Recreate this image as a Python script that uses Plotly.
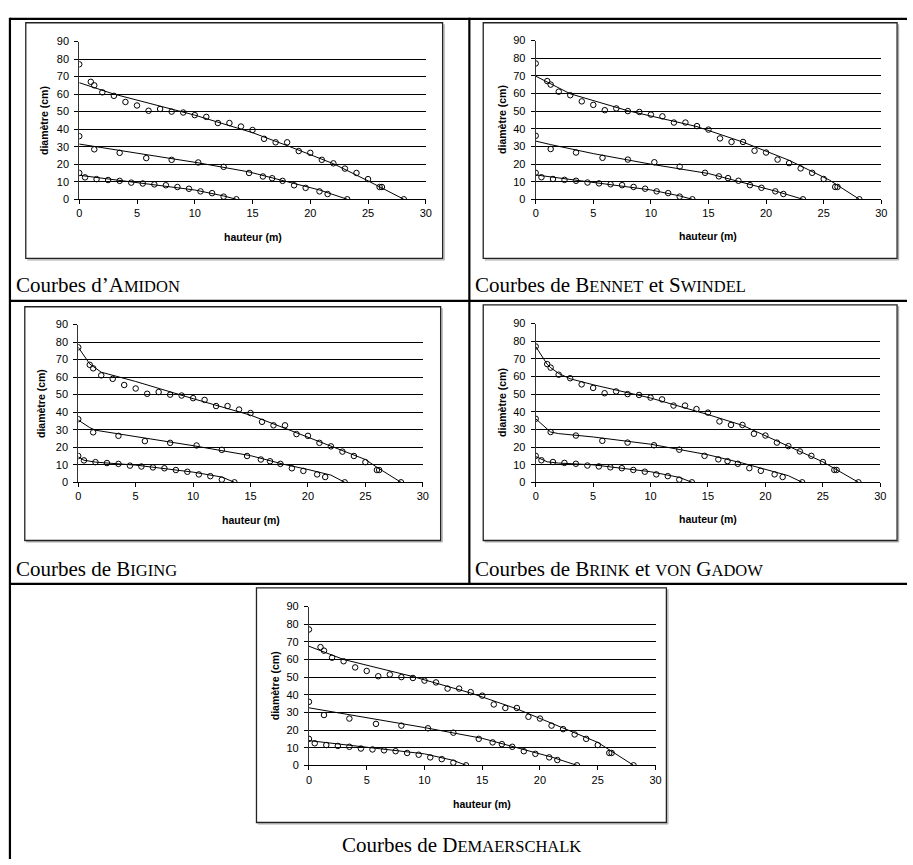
import plotly.graph_objects as go

# ---------------- observed data (height m, diameter cm) ----------------
H1 = [0, 1, 1.3, 2, 3, 4, 5, 6, 7, 8, 9, 10, 11, 12, 13, 14, 15, 16, 17, 18, 19, 20, 21, 22, 23, 24, 25, 26, 26.2, 28.1]
D1 = [77, 67, 65, 61, 59, 55.5, 53.5, 50.5, 51.5, 50, 49.5, 48, 47, 43.5, 43.5, 41.5, 39.5, 34.5, 32.5, 32.5, 27.5, 26.5, 22.5, 20.5, 17.5, 15, 11.5, 7, 7, 0]
H2 = [0, 1.3, 3.5, 5.8, 8, 10.3, 12.5, 14.7, 15.9, 16.7, 17.6, 18.6, 19.6, 20.8, 21.5, 23.2]
D2 = [36, 28.5, 26.5, 23.5, 22.5, 21, 18.5, 15, 13, 12, 10.5, 8, 6.5, 4.5, 3, 0]
H3 = [0, 0.5, 1.5, 2.5, 3.5, 4.5, 5.5, 6.5, 7.5, 8.5, 9.5, 10.5, 11.5, 12.5, 13.6]
D3 = [15, 12.5, 11.5, 11, 10.5, 9.5, 9, 8.5, 8, 7, 6, 4.5, 3.5, 1.5, 0]

# ---------------- fitted profiles ----------------
# Amidon
A_H1 = [0, 3, 10, 15, 18, 22, 25, 28.1]
A_D1 = [66.5, 60, 48, 38, 30.6, 20.3, 10.5, 0]
A_H2 = [0, 10.3, 14.7, 17.6, 20.8, 23.2]
A_D2 = [31.5, 20.8, 15.6, 10.9, 5.3, 0]
A_H3 = [0, 5, 10, 12.5, 13.6]
A_D3 = [13.7, 9.6, 5.3, 1.9, 0]
# Bennet et Swindel
B_H1 = [0, 3, 8, 14, 18, 22, 25.5, 28.1]
B_D1 = [69.8, 59.8, 50.2, 41.2, 32.4, 22.1, 10.9, 0]
B_H2 = [0, 1.3, 5, 10, 15, 18, 21, 23.2]
B_D2 = [33, 31, 25.9, 19.9, 14.6, 9.5, 4.3, 0]
B_H3 = [0, 5, 10, 12.5, 13.6]
B_D3 = [13.8, 9.7, 5.3, 1.9, 0]
# Biging
G_H1 = [0, 1, 2, 5, 10, 15, 18, 22, 25, 26, 28.1]
G_D1 = [77, 67.5, 62.8, 57.5, 47.7, 38.3, 30.8, 20.5, 13, 8.6, 0]
G_H2 = [0, 1, 1.5, 5, 10, 15, 18, 20, 22, 23.2]
G_D2 = [35.5, 31.2, 29.7, 26.1, 20.9, 15.2, 10.1, 7.3, 4.1, 0]
G_H3 = [0, 0.5, 1.5, 5, 10, 12.5, 13.6]
G_D3 = [14.5, 12.6, 11.5, 9.8, 5.8, 3, 0]
# Brink et von Gadow
K_H1 = [0, 1, 1.3, 2, 3, 5, 10, 15, 18, 20, 22, 25, 28.1]
K_D1 = [77, 66.9, 65, 61.7, 58.7, 55.3, 47.8, 38.4, 32.3, 26.3, 20.3, 11.6, 0]
K_H2 = [0, 1.3, 2, 5, 10, 15, 18, 20, 22, 23.2]
K_D2 = [36, 28.5, 27.6, 25.7, 21.6, 15.6, 10.9, 7.3, 3.75, 0]
K_H3 = [0, 1, 2, 5, 10, 12.5, 13.6]
K_D3 = [14.6, 11.6, 10.9, 9.9, 6, 2.8, 0]
# Demaerschalk
M_H1 = [0, 3, 9, 14, 18, 22, 25, 26, 28.1]
M_D1 = [67.5, 60, 50.3, 41, 32, 21.4, 13, 8.8, 0]
M_H2 = [0, 5, 10, 15, 18.5, 21, 23.2]
M_D2 = [32.6, 27, 21.4, 15.3, 9.3, 4.7, 0]
M_H3 = [0, 5, 10, 12.5, 13.6]
M_D3 = [14, 10.2, 6.5, 2.8, 0]

X_TICKS = [0, 5, 10, 15, 20, 25, 30]
Y_TICKS = [0, 10, 20, 30, 40, 50, 60, 70, 80, 90]
X_TITLE = "hauteur (m)"
Y_TITLE = "diamètre (cm)"


def sc(s, size=16.5):
    return '<span style="font-size:%spx">%s</span>' % (size, s)


CAPTIONS = [
    "Courbes d’A" + sc("MIDON"),
    "Courbes de B" + sc("ENNET") + " et S" + sc("WINDEL"),
    "Courbes de B" + sc("IGING"),
    "Courbes de B" + sc("RINK") + " et " + sc("VON") + " G" + sc("ADOW"),
    "Courbes de D" + sc("EMAERSCHALK"),
]

FITS = [
    [(A_H1, A_D1), (A_H2, A_D2), (A_H3, A_D3)],
    [(B_H1, B_D1), (B_H2, B_D2), (B_H3, B_D3)],
    [(G_H1, G_D1), (G_H2, G_D2), (G_H3, G_D3)],
    [(K_H1, K_D1), (K_H2, K_D2), (K_H3, K_D3)],
    [(M_H1, M_D1), (M_H2, M_D2), (M_H3, M_D3)],
]
OBS = [(H1, D1), (H2, D2), (H3, D3)]

# ---------------- layout geometry (pixels) ----------------
W, H = 913, 865
# plot area: x0, x1, ytop, ybottom
PLOTS = [(77, 427, 36, 196), (538, 887, 35, 196), (76, 424, 323, 483),
         (538, 886, 322, 483), (309, 659, 609, 770)]
BOXES = [(23, 444, 17, 256), (485, 903, 17, 256), (22, 442, 305, 542),
         (485, 903, 303, 542), (256, 670, 590, 828)]
YTITLE_X = [42, 504, 39, 504, 275]
XTITLE_Y = [234, 233, 521, 520, 809]
CAP_POS = [(11, 283, "left"), (475, 283, "left"), (11, 571, "left"),
           (475, 571, "left"), (463, 851, "center")]


def fx(x):
    return x / W


def fy(y):
    return 1 - y / H


fig = go.Figure()
layout = dict(width=W, height=H, margin=dict(l=0, r=0, t=0, b=0),
              paper_bgcolor="white", plot_bgcolor="white", showlegend=False)
shapes = []
annotations = []
tickfont = dict(family="Liberation Sans, Arial", size=11, color="black")

for i in range(5):
    n = "" if i == 0 else str(i + 1)
    xa, ya = "x" + n, "y" + n
    x0, x1, yt, yb = PLOTS[i]
    for (h, d) in FITS[i]:
        fig.add_trace(go.Scatter(x=h, y=d, mode="lines", xaxis=xa, yaxis=ya,
                                 line=dict(color="black", width=1), hoverinfo="skip"))
    for (h, d) in OBS:
        fig.add_trace(go.Scatter(x=h, y=d, mode="markers", xaxis=xa, yaxis=ya,
                                 marker=dict(symbol="circle-open", size=5.5,
                                             color="black", line=dict(width=1))))
    layout["xaxis" + n] = dict(domain=[fx(x0), fx(x1)], range=[0, 30], anchor=ya,
                               tickvals=X_TICKS, ticks="outside", ticklen=4,
                               tickcolor="black", showline=True, linecolor="black",
                               linewidth=1, showgrid=False, zeroline=False,
                               tickfont=tickfont, fixedrange=True)
    layout["yaxis" + n] = dict(domain=[fy(yb), fy(yt)], range=[0, 90], anchor=xa,
                               tickvals=Y_TICKS, ticks="outside", ticklen=4,
                               tickcolor="black", showline=True, linecolor="#333333",
                               linewidth=1, showgrid=True, gridcolor="black",
                               gridwidth=1, zeroline=False, tickfont=tickfont,
                               ticklabelstandoff=3, fixedrange=True)
    # chart box with slight shadow
    bx0, bx1, by0, by1 = BOXES[i]
    shapes.append(dict(type="line", xref="paper", yref="paper",
                       x0=fx(bx1 + 1.5), x1=fx(bx1 + 1.5), y0=fy(by0 + 1.5), y1=fy(by1 + 1.5),
                       line=dict(color="#aaaaaa", width=1.2)))
    shapes.append(dict(type="line", xref="paper", yref="paper",
                       x0=fx(bx0 + 1.5), x1=fx(bx1 + 1.5), y0=fy(by1 + 1.5), y1=fy(by1 + 1.5),
                       line=dict(color="#aaaaaa", width=1.2)))
    shapes.append(dict(type="rect", xref="paper", yref="paper",
                       x0=fx(bx0), x1=fx(bx1), y0=fy(by1), y1=fy(by0),
                       line=dict(color="#222222", width=1.3)))
    # axis titles
    annotations.append(dict(text="<b>%s</b>" % Y_TITLE, xref="paper", yref="paper",
                            x=fx(YTITLE_X[i]), y=fy((yt + yb) / 2), textangle=-90,
                            showarrow=False, xanchor="center", yanchor="middle",
                            font=dict(family="Liberation Sans, Arial", size=10.5, color="black")))
    annotations.append(dict(text="<b>%s</b>" % X_TITLE, xref="paper", yref="paper",
                            x=fx((x0 + x1) / 2), y=fy(XTITLE_Y[i]),
                            showarrow=False, xanchor="center", yanchor="middle",
                            font=dict(family="Liberation Sans, Arial", size=10.5, color="black")))
    cx, cy, anc = CAP_POS[i]
    annotations.append(dict(text=CAPTIONS[i], xref="paper", yref="paper",
                            x=fx(cx), y=fy(cy), showarrow=False, xanchor=anc,
                            yanchor="middle",
                            font=dict(family="Liberation Serif, Times New Roman", size=21,
                                      color="black")))

# table borders
tw = 2.2
shapes += [
    dict(type="line", xref="paper", yref="paper", x0=fx(7), x1=1, y0=fy(13), y1=fy(13),
         line=dict(color="black", width=tw)),
    dict(type="line", xref="paper", yref="paper", x0=fx(7), x1=1, y0=fy(299), y1=fy(299),
         line=dict(color="black", width=tw)),
    dict(type="line", xref="paper", yref="paper", x0=fx(7), x1=1, y0=fy(586), y1=fy(586),
         line=dict(color="black", width=tw)),
    dict(type="line", xref="paper", yref="paper", x0=fx(7), x1=fx(7), y0=fy(12), y1=0,
         line=dict(color="black", width=tw)),
    dict(type="line", xref="paper", yref="paper", x0=fx(471), x1=fx(471), y0=fy(12), y1=fy(587),
         line=dict(color="black", width=tw)),
]

layout["shapes"] = shapes
layout["annotations"] = annotations
fig.update_layout(**layout)
fig.write_html("out.html")
